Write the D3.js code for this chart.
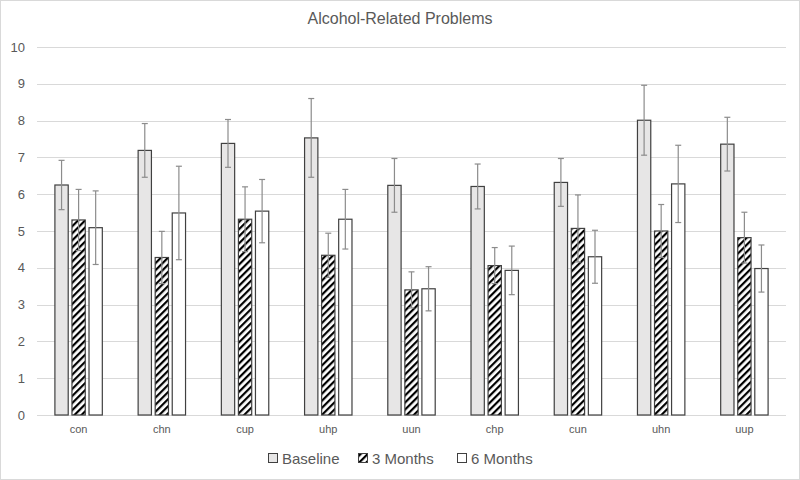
<!DOCTYPE html>
<html><head><meta charset="utf-8">
<script src="https://cdn.jsdelivr.net/npm/d3@7"></script>
<style>body{margin:0;background:#fff}svg{display:block}</style>
</head><body>
<svg id="c" width="800" height="480"></svg>
<script>
const categories = ["con","chn","cup","uhp","uun","chp","cun","uhn","uup"];
const seriesNames = ["Baseline","3 Months","6 Months"];
const baseline = [6.25,7.19,7.38,7.53,6.24,6.21,6.32,8.01,7.36];
const baselineErr = [0.67,0.73,0.65,1.07,0.73,0.61,0.65,0.95,0.73];
const months3 = [5.30,4.28,5.32,4.34,3.40,4.06,5.07,5.00,4.82];
const months3Err = [0.83,0.71,0.88,0.60,0.49,0.49,0.91,0.72,0.69];
const months6 = [5.09,5.49,5.54,5.32,3.43,3.93,4.30,6.28,3.98];
const months6Err = [1.00,1.27,0.86,0.81,0.60,0.66,0.72,1.05,0.64];
const yTicks = [0,1,2,3,4,5,6,7,8,9,10];

const svg = d3.select("#c");
const W = 800, H = 480;
const m = {left:37, right:14, top:47, bottom:65};
const fontF = "'Liberation Sans', Arial, sans-serif";

svg.append("rect").attr("x",0.5).attr("y",0.5).attr("width",W-1).attr("height",H-1)
  .attr("fill","#fff").attr("stroke","#d9d9d9");

const defs = svg.append("defs");
const pat = defs.append("pattern").attr("id","hatch").attr("patternUnits","userSpaceOnUse")
  .attr("width",5).attr("height",5).attr("patternTransform","rotate(45)");
pat.append("rect").attr("width",5).attr("height",5).attr("fill","#fff");
pat.append("rect").attr("x",0).attr("width",2.2).attr("height",5).attr("fill","#000");

const x0 = d3.scaleBand().domain(categories).range([m.left, W-m.right]).paddingInner(0).paddingOuter(0);
const x1 = d3.scaleBand().domain(seriesNames).range([0, x0.bandwidth()]).paddingInner(0.22).paddingOuter(1.05);
const y = d3.scaleLinear().domain([0,10]).range([H-m.bottom, m.top]);

// gridlines
svg.append("g").selectAll("line").data(yTicks).join("line")
  .attr("x1",m.left).attr("x2",W-m.right)
  .attr("y1",d=>Math.round(y(d))+0.5).attr("y2",d=>Math.round(y(d))+0.5)
  .attr("stroke","#d9d9d9").attr("stroke-width",1);

// y axis labels
const yAxis = d3.axisLeft(y).tickValues(yTicks).tickSize(0).tickPadding(0);
const ya = svg.append("g").attr("transform",`translate(${m.left-12},0)`).call(yAxis);
ya.select(".domain").remove();
ya.selectAll("text").attr("fill","#595959").attr("font-size",13).attr("font-family",fontF);

// x axis labels
const xAxis = d3.axisBottom(x0).tickSize(0).tickPadding(0);
const xa = svg.append("g").attr("transform",`translate(0,${H-m.bottom+10})`).call(xAxis);
xa.select(".domain").remove();
xa.selectAll("text").attr("fill","#595959").attr("font-size",11).attr("font-family",fontF);

const fills = {"Baseline":"#e7e6e6","3 Months":"url(#hatch)","6 Months":"#ffffff"};
const vals = {"Baseline":baseline,"3 Months":months3,"6 Months":months6};
const errs = {"Baseline":baselineErr,"3 Months":months3Err,"6 Months":months6Err};

const rows = [];
categories.forEach((c,i)=>seriesNames.forEach(s=>rows.push({c,s,v:vals[s][i],e:errs[s][i]})));

const g = svg.append("g");
g.selectAll("rect").data(rows).join("rect")
  .attr("x",d=>x0(d.c)+x1(d.s)).attr("width",x1.bandwidth())
  .attr("y",d=>y(d.v)).attr("height",d=>y(0)-y(d.v))
  .attr("fill",d=>fills[d.s]).attr("stroke","#404040").attr("stroke-width",1.2);

const eb = svg.append("g").attr("stroke","#8c8c8c").attr("stroke-width",1.2);
rows.forEach(d=>{
  const cx = x0(d.c)+x1(d.s)+x1.bandwidth()/2;
  eb.append("line").attr("x1",cx).attr("x2",cx).attr("y1",y(d.v+d.e)).attr("y2",y(d.v-d.e));
  eb.append("line").attr("x1",cx-3).attr("x2",cx+3).attr("y1",y(d.v+d.e)).attr("y2",y(d.v+d.e));
  eb.append("line").attr("x1",cx-3).attr("x2",cx+3).attr("y1",y(d.v-d.e)).attr("y2",y(d.v-d.e));
});

svg.append("text").attr("x",400).attr("y",24).attr("text-anchor","middle")
  .attr("fill","#595959").attr("font-size",16).attr("font-family",fontF).text("Alcohol-Related Problems");

// legend
const legX = [268,358,457];
const lg = svg.append("g");
seriesNames.forEach((s,i)=>{
  lg.append("rect").attr("x",legX[i]+0.5).attr("y",453.5).attr("width",9).attr("height",9)
    .attr("fill",fills[s]).attr("stroke","#404040").attr("stroke-width",1);
  lg.append("text").attr("x",legX[i]+14).attr("y",463.5).attr("fill","#595959")
    .attr("font-size",15).attr("font-family",fontF).text(s);
});
</script>
</body></html>
